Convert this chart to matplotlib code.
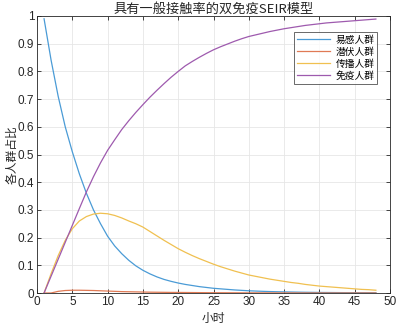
import matplotlib
matplotlib.use("Agg")
import matplotlib.pyplot as plt
import numpy as np

hours = list(range(1, 49))
susceptible = [0.99, 0.84, 0.71, 0.60, 0.51, 0.43, 0.36, 0.30, 0.25, 0.205,
               0.17, 0.142, 0.118, 0.098, 0.082, 0.069, 0.058, 0.049, 0.042, 0.036,
               0.031, 0.027, 0.023, 0.020, 0.017, 0.015, 0.013, 0.011, 0.0095, 0.008,
               0.007, 0.006, 0.0052, 0.0045, 0.004, 0.0035, 0.003, 0.0026, 0.0023, 0.002,
               0.0018, 0.0016, 0.0014, 0.0012, 0.0011, 0.001, 0.0009, 0.0008]
exposed = [0.0, 0.0, 0.006, 0.009, 0.010, 0.010, 0.0095, 0.009, 0.008, 0.007,
           0.006, 0.005, 0.0045, 0.004, 0.0035, 0.003, 0.0027, 0.0024, 0.0021, 0.002,
           0.0018, 0.0016, 0.0014, 0.0012, 0.001, 0.0009, 0.0008, 0.0007, 0.0006, 0.0005,
           0.0005, 0.0004, 0.0004, 0.0003, 0.0003, 0.0003, 0.0002, 0.0002, 0.0002, 0.0002,
           0.0001, 0.0001, 0.0001, 0.0001, 0.0001, 0.0001, 0.0001, 0.0001]
infectious = [0.0, 0.07, 0.135, 0.19, 0.232, 0.26, 0.276, 0.285, 0.288, 0.286,
              0.280, 0.271, 0.260, 0.250, 0.238, 0.222, 0.206, 0.190, 0.175, 0.160,
              0.147, 0.135, 0.124, 0.114, 0.104, 0.095, 0.087, 0.079, 0.072, 0.065,
              0.06, 0.055, 0.05, 0.046, 0.042, 0.038, 0.035, 0.031, 0.028, 0.025,
              0.023, 0.021, 0.019, 0.017, 0.015, 0.013, 0.012, 0.010]
immune = [0.0, 0.061, 0.122, 0.183, 0.244, 0.305, 0.365, 0.42, 0.47, 0.515,
          0.553, 0.59, 0.622, 0.652, 0.68, 0.707, 0.732, 0.756, 0.779, 0.80,
          0.82, 0.836, 0.851, 0.865, 0.878, 0.889, 0.899, 0.909, 0.918, 0.926,
          0.932, 0.938, 0.944, 0.949, 0.954, 0.958, 0.962, 0.966, 0.969, 0.972,
          0.975, 0.977, 0.979, 0.981, 0.983, 0.985, 0.987, 0.989]
labels = ["易感人群", "潜伏人群", "传播人群", "免疫人群"]
colors = ["#4a9bd6", "#e07a55", "#f0c050", "#9e5aae"]

cjk = ["Noto Sans CJK SC", "DejaVu Sans"]
plt.rcParams['font.family'] = ["Liberation Sans", "Noto Sans CJK SC", "DejaVu Sans"]

fig = plt.figure(figsize=(3.99, 3.26), dpi=100)
ax = fig.add_axes([37/399, 1-293/326, (390-37)/399, (293-16)/326])

for series, lab, col in zip([susceptible, exposed, infectious, immune], labels, colors):
    ax.plot(hours, series, color=col, lw=0.9, label=lab)

ax.set_xlim(0, 50)
ax.set_ylim(0, 1)
ax.set_xticks(np.arange(0, 51, 5))
ax.set_yticks(np.arange(0, 1.01, 0.1))
ax.set_yticklabels(["0", "0.1", "0.2", "0.3", "0.4", "0.5", "0.6", "0.7", "0.8", "0.9", "1"])
ax.grid(True, color="#e6e6e6", lw=0.6)
ax.set_axisbelow(True)
ax.tick_params(direction="in", length=3, width=0.6, colors="#262626", labelsize=8.5,
               top=True, right=True, pad=2)
for s in ax.spines.values():
    s.set_color("#262626")
    s.set_linewidth(0.6)

ax.set_title("具有一般接触率的双免疫SEIR模型", fontsize=9.5, family=cjk, pad=2, color="#262626")
ax.set_xlabel("小时", fontsize=8.5, family=cjk, color="#262626")
ax.xaxis.set_label_coords(0.5, -0.068)
ax.set_ylabel("各人群占比", fontsize=8.5, family=cjk, color="#262626", va="center")
ax.yaxis.set_label_coords(-0.072, 0.5)

leg = ax.legend(loc="upper right", bbox_to_anchor=(0.978, 0.96), prop={"family": cjk, "size": 7},
                frameon=True, fancybox=False, edgecolor="#262626", handlelength=3.4,
                borderpad=0.3, labelspacing=0.2, handletextpad=0.6)
leg.get_frame().set_linewidth(0.6)

fig.savefig("out.png", dpi=100)
